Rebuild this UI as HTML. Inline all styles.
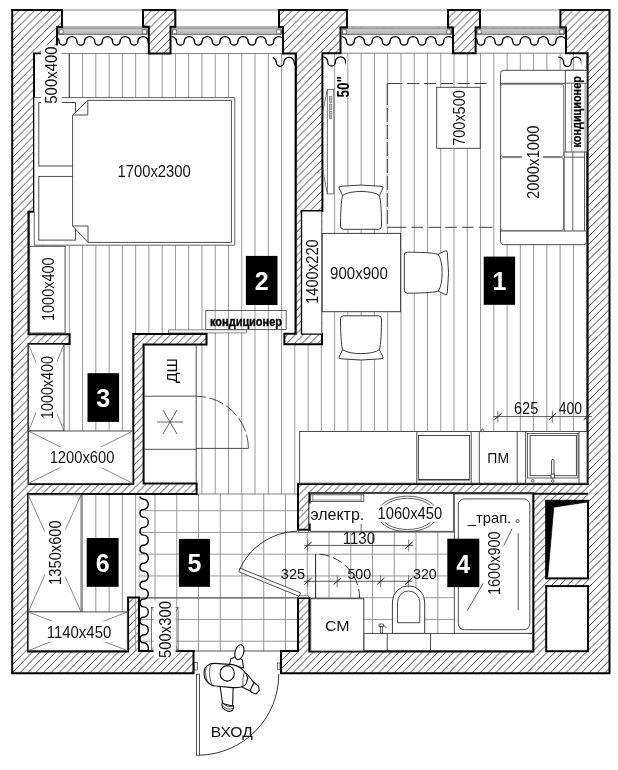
<!DOCTYPE html>
<html><head><meta charset="utf-8"><title>plan</title>
<style>html,body{margin:0;padding:0;background:#fff;overflow:hidden;}svg{display:block;}</style></head>
<body>
<svg width="618" height="770" viewBox="0 0 618 770">
<defs>
<pattern id="hatch" patternUnits="userSpaceOnUse" width="7.8" height="7.8" patternTransform="translate(6.1,0)"><path d="M-1,8.8 L8.8,-1 M-1,1 L1,-1 M6.8,8.8 L8.8,6.8" stroke="#3c3c3c" stroke-width="0.95" fill="none"/></pattern>
<filter id="gs" x="-5%" y="-5%" width="110%" height="110%" color-interpolation-filters="sRGB"><feOffset dx="0" dy="0"/></filter>
</defs>
<rect width="618" height="770" fill="#fff"/>
<rect x="12.20" y="10.00" width="597.30" height="663.20" fill="url(#hatch)" stroke="none" stroke-width="1" />
<rect x="62.00" y="8.00" width="81.00" height="19.00" fill="#fff" stroke="none" stroke-width="1" />
<rect x="57.00" y="27.00" width="91.80" height="26.50" fill="#fff" stroke="none" stroke-width="1" />
<rect x="175.30" y="8.00" width="103.70" height="19.00" fill="#fff" stroke="none" stroke-width="1" />
<rect x="170.50" y="27.00" width="112.50" height="26.50" fill="#fff" stroke="none" stroke-width="1" />
<rect x="347.00" y="8.00" width="101.00" height="19.50" fill="#fff" stroke="none" stroke-width="1" />
<rect x="340.50" y="27.50" width="112.50" height="25.70" fill="#fff" stroke="none" stroke-width="1" />
<rect x="480.00" y="8.00" width="80.40" height="19.50" fill="#fff" stroke="none" stroke-width="1" />
<rect x="475.60" y="27.50" width="90.40" height="25.70" fill="#fff" stroke="none" stroke-width="1" />
<rect x="34.00" y="53.50" width="261.90" height="280.70" fill="#fff" stroke="none" stroke-width="1" />
<rect x="28.50" y="211.70" width="5.50" height="122.40" fill="#fff" stroke="none" stroke-width="1" />
<rect x="206.50" y="334.00" width="77.70" height="11.00" fill="#fff" stroke="none" stroke-width="1" />
<rect x="28.50" y="344.00" width="104.80" height="140.00" fill="#fff" stroke="none" stroke-width="1" />
<rect x="69.60" y="334.00" width="63.70" height="10.20" fill="#fff" stroke="none" stroke-width="1" />
<rect x="143.60" y="344.40" width="52.90" height="139.10" fill="#fff" stroke="none" stroke-width="1" />
<rect x="196.50" y="344.60" width="391.10" height="139.10" fill="#fff" stroke="none" stroke-width="1" />
<rect x="196.50" y="482.00" width="101.30" height="12.00" fill="#fff" stroke="none" stroke-width="1" />
<rect x="322.40" y="53.20" width="265.20" height="291.80" fill="#fff" stroke="none" stroke-width="1" />
<rect x="301.60" y="211.00" width="20.80" height="123.20" fill="#fff" stroke="none" stroke-width="1" />
<rect x="28.10" y="494.00" width="269.90" height="157.30" fill="#fff" stroke="none" stroke-width="1" />
<rect x="193.50" y="650.00" width="87.50" height="24.00" fill="#fff" stroke="none" stroke-width="1" />
<rect x="309.40" y="492.40" width="224.00" height="159.10" fill="#fff" stroke="none" stroke-width="1" />
<rect x="297.50" y="529.70" width="12.10" height="68.30" fill="#fff" stroke="none" stroke-width="1" />
<rect x="128.10" y="597.50" width="10.90" height="54.00" fill="url(#hatch)" stroke="none" stroke-width="1" />
<clipPath id="woodclip">
<rect x="34" y="53.5" width="261.90" height="280.70"/>
<rect x="28.5" y="211.7" width="5.50" height="122.40"/>
<rect x="206.5" y="334" width="77.70" height="11.00"/>
<rect x="28.5" y="344" width="104.80" height="140.00"/>
<rect x="69.6" y="334" width="63.70" height="10.20"/>
<rect x="196.5" y="344.6" width="391.10" height="139.10"/>
<rect x="196.5" y="482" width="101.30" height="12.00"/>
<rect x="322.4" y="53.2" width="265.20" height="291.80"/>
<rect x="28.1" y="494" width="110.70" height="157.30"/>
</clipPath>
<g clip-path="url(#woodclip)">
<line x1="16.24" y1="40.00" x2="16.24" y2="660.00" stroke="#8c8c8c" stroke-width="0.9" />
<line x1="29.50" y1="40.00" x2="29.50" y2="660.00" stroke="#8c8c8c" stroke-width="0.9" />
<line x1="42.77" y1="40.00" x2="42.77" y2="660.00" stroke="#8c8c8c" stroke-width="0.9" />
<line x1="56.03" y1="40.00" x2="56.03" y2="660.00" stroke="#8c8c8c" stroke-width="0.9" />
<line x1="69.30" y1="40.00" x2="69.30" y2="660.00" stroke="#8c8c8c" stroke-width="0.9" />
<line x1="82.57" y1="40.00" x2="82.57" y2="660.00" stroke="#8c8c8c" stroke-width="0.9" />
<line x1="95.83" y1="40.00" x2="95.83" y2="660.00" stroke="#8c8c8c" stroke-width="0.9" />
<line x1="109.10" y1="40.00" x2="109.10" y2="660.00" stroke="#8c8c8c" stroke-width="0.9" />
<line x1="122.36" y1="40.00" x2="122.36" y2="660.00" stroke="#8c8c8c" stroke-width="0.9" />
<line x1="135.63" y1="40.00" x2="135.63" y2="660.00" stroke="#8c8c8c" stroke-width="0.9" />
<line x1="148.90" y1="40.00" x2="148.90" y2="660.00" stroke="#8c8c8c" stroke-width="0.9" />
<line x1="162.16" y1="40.00" x2="162.16" y2="660.00" stroke="#8c8c8c" stroke-width="0.9" />
<line x1="175.43" y1="40.00" x2="175.43" y2="660.00" stroke="#8c8c8c" stroke-width="0.9" />
<line x1="188.69" y1="40.00" x2="188.69" y2="660.00" stroke="#8c8c8c" stroke-width="0.9" />
<line x1="201.96" y1="40.00" x2="201.96" y2="660.00" stroke="#8c8c8c" stroke-width="0.9" />
<line x1="215.23" y1="40.00" x2="215.23" y2="660.00" stroke="#8c8c8c" stroke-width="0.9" />
<line x1="228.49" y1="40.00" x2="228.49" y2="660.00" stroke="#8c8c8c" stroke-width="0.9" />
<line x1="241.76" y1="40.00" x2="241.76" y2="660.00" stroke="#8c8c8c" stroke-width="0.9" />
<line x1="255.02" y1="40.00" x2="255.02" y2="660.00" stroke="#8c8c8c" stroke-width="0.9" />
<line x1="268.29" y1="40.00" x2="268.29" y2="660.00" stroke="#8c8c8c" stroke-width="0.9" />
<line x1="281.56" y1="40.00" x2="281.56" y2="660.00" stroke="#8c8c8c" stroke-width="0.9" />
<line x1="294.82" y1="40.00" x2="294.82" y2="660.00" stroke="#8c8c8c" stroke-width="0.9" />
<line x1="308.09" y1="40.00" x2="308.09" y2="660.00" stroke="#8c8c8c" stroke-width="0.9" />
<line x1="321.35" y1="40.00" x2="321.35" y2="660.00" stroke="#8c8c8c" stroke-width="0.9" />
<line x1="334.62" y1="40.00" x2="334.62" y2="660.00" stroke="#8c8c8c" stroke-width="0.9" />
<line x1="347.89" y1="40.00" x2="347.89" y2="660.00" stroke="#8c8c8c" stroke-width="0.9" />
<line x1="361.15" y1="40.00" x2="361.15" y2="660.00" stroke="#8c8c8c" stroke-width="0.9" />
<line x1="374.42" y1="40.00" x2="374.42" y2="660.00" stroke="#8c8c8c" stroke-width="0.9" />
<line x1="387.68" y1="40.00" x2="387.68" y2="660.00" stroke="#8c8c8c" stroke-width="0.9" />
<line x1="400.95" y1="40.00" x2="400.95" y2="660.00" stroke="#8c8c8c" stroke-width="0.9" />
<line x1="414.22" y1="40.00" x2="414.22" y2="660.00" stroke="#8c8c8c" stroke-width="0.9" />
<line x1="427.48" y1="40.00" x2="427.48" y2="660.00" stroke="#8c8c8c" stroke-width="0.9" />
<line x1="440.75" y1="40.00" x2="440.75" y2="660.00" stroke="#8c8c8c" stroke-width="0.9" />
<line x1="454.01" y1="40.00" x2="454.01" y2="660.00" stroke="#8c8c8c" stroke-width="0.9" />
<line x1="467.28" y1="40.00" x2="467.28" y2="660.00" stroke="#8c8c8c" stroke-width="0.9" />
<line x1="480.55" y1="40.00" x2="480.55" y2="660.00" stroke="#8c8c8c" stroke-width="0.9" />
<line x1="493.81" y1="40.00" x2="493.81" y2="660.00" stroke="#8c8c8c" stroke-width="0.9" />
<line x1="507.08" y1="40.00" x2="507.08" y2="660.00" stroke="#8c8c8c" stroke-width="0.9" />
<line x1="520.34" y1="40.00" x2="520.34" y2="660.00" stroke="#8c8c8c" stroke-width="0.9" />
<line x1="533.61" y1="40.00" x2="533.61" y2="660.00" stroke="#8c8c8c" stroke-width="0.9" />
<line x1="546.88" y1="40.00" x2="546.88" y2="660.00" stroke="#8c8c8c" stroke-width="0.9" />
<line x1="560.14" y1="40.00" x2="560.14" y2="660.00" stroke="#8c8c8c" stroke-width="0.9" />
<line x1="573.41" y1="40.00" x2="573.41" y2="660.00" stroke="#8c8c8c" stroke-width="0.9" />
<line x1="586.67" y1="40.00" x2="586.67" y2="660.00" stroke="#8c8c8c" stroke-width="0.9" />
<line x1="599.94" y1="40.00" x2="599.94" y2="660.00" stroke="#8c8c8c" stroke-width="0.9" />
</g>
<clipPath id="tileclip">
<rect x="138.8" y="494" width="164.20" height="157.30"/>
<rect x="193.5" y="650" width="87.50" height="1.50"/>
<rect x="309.4" y="492.4" width="224.00" height="159.10"/>
<rect x="303" y="529.7" width="6.60" height="68.30"/>
</clipPath>
<g clip-path="url(#tileclip)">
<line x1="133.25" y1="490.00" x2="133.25" y2="655.00" stroke="#8c8c8c" stroke-width="0.9" />
<line x1="155.00" y1="490.00" x2="155.00" y2="655.00" stroke="#8c8c8c" stroke-width="0.9" />
<line x1="176.75" y1="490.00" x2="176.75" y2="655.00" stroke="#8c8c8c" stroke-width="0.9" />
<line x1="198.50" y1="490.00" x2="198.50" y2="655.00" stroke="#8c8c8c" stroke-width="0.9" />
<line x1="220.25" y1="490.00" x2="220.25" y2="655.00" stroke="#8c8c8c" stroke-width="0.9" />
<line x1="242.00" y1="490.00" x2="242.00" y2="655.00" stroke="#8c8c8c" stroke-width="0.9" />
<line x1="263.75" y1="490.00" x2="263.75" y2="655.00" stroke="#8c8c8c" stroke-width="0.9" />
<line x1="285.50" y1="490.00" x2="285.50" y2="655.00" stroke="#8c8c8c" stroke-width="0.9" />
<line x1="307.25" y1="490.00" x2="307.25" y2="655.00" stroke="#8c8c8c" stroke-width="0.9" />
<line x1="329.00" y1="490.00" x2="329.00" y2="655.00" stroke="#8c8c8c" stroke-width="0.9" />
<line x1="350.75" y1="490.00" x2="350.75" y2="655.00" stroke="#8c8c8c" stroke-width="0.9" />
<line x1="372.50" y1="490.00" x2="372.50" y2="655.00" stroke="#8c8c8c" stroke-width="0.9" />
<line x1="394.25" y1="490.00" x2="394.25" y2="655.00" stroke="#8c8c8c" stroke-width="0.9" />
<line x1="416.00" y1="490.00" x2="416.00" y2="655.00" stroke="#8c8c8c" stroke-width="0.9" />
<line x1="437.75" y1="490.00" x2="437.75" y2="655.00" stroke="#8c8c8c" stroke-width="0.9" />
<line x1="459.50" y1="490.00" x2="459.50" y2="655.00" stroke="#8c8c8c" stroke-width="0.9" />
<line x1="481.25" y1="490.00" x2="481.25" y2="655.00" stroke="#8c8c8c" stroke-width="0.9" />
<line x1="503.00" y1="490.00" x2="503.00" y2="655.00" stroke="#8c8c8c" stroke-width="0.9" />
<line x1="524.75" y1="490.00" x2="524.75" y2="655.00" stroke="#8c8c8c" stroke-width="0.9" />
<line x1="130.00" y1="488.95" x2="540.00" y2="488.95" stroke="#8c8c8c" stroke-width="0.9" />
<line x1="130.00" y1="510.70" x2="540.00" y2="510.70" stroke="#8c8c8c" stroke-width="0.9" />
<line x1="130.00" y1="532.45" x2="540.00" y2="532.45" stroke="#8c8c8c" stroke-width="0.9" />
<line x1="130.00" y1="554.20" x2="540.00" y2="554.20" stroke="#8c8c8c" stroke-width="0.9" />
<line x1="130.00" y1="575.95" x2="540.00" y2="575.95" stroke="#8c8c8c" stroke-width="0.9" />
<line x1="130.00" y1="597.70" x2="540.00" y2="597.70" stroke="#8c8c8c" stroke-width="0.9" />
<line x1="130.00" y1="619.45" x2="540.00" y2="619.45" stroke="#8c8c8c" stroke-width="0.9" />
<line x1="130.00" y1="641.20" x2="540.00" y2="641.20" stroke="#8c8c8c" stroke-width="0.9" />
<line x1="138.80" y1="494.00" x2="138.80" y2="652.00" stroke="#8c8c8c" stroke-width="0.9" />
</g>
<line x1="57.00" y1="53.50" x2="148.80" y2="53.50" stroke="#777" stroke-width="0.9" />
<line x1="170.50" y1="53.50" x2="283.00" y2="53.50" stroke="#777" stroke-width="0.9" />
<line x1="340.50" y1="53.20" x2="453.00" y2="53.20" stroke="#777" stroke-width="0.9" />
<line x1="475.60" y1="53.20" x2="566.00" y2="53.20" stroke="#777" stroke-width="0.9" />
<line x1="196.50" y1="494.00" x2="297.80" y2="494.00" stroke="#777" stroke-width="0.9" />
<line x1="138.40" y1="598.00" x2="298.00" y2="598.00" stroke="#555" stroke-width="1" />
<line x1="193.50" y1="651.00" x2="281.00" y2="651.00" stroke="#555" stroke-width="1" />
<line x1="62.00" y1="10.00" x2="143.00" y2="10.00" stroke="#777" stroke-width="0.9" />
<line x1="57.00" y1="27.00" x2="148.80" y2="27.00" stroke="#555" stroke-width="0.9" />
<rect x="58.60" y="28.90" width="88.60" height="5.40" fill="#bdbdbd" stroke="#4a4a4a" stroke-width="0.8" />
<line x1="58.60" y1="29.90" x2="147.20" y2="29.90" stroke="#e2e2e2" stroke-width="0.9" />
<rect x="59.20" y="29.90" width="4.00" height="3.90" fill="#fff" stroke="#555" stroke-width="0.7" />
<rect x="142.60" y="29.90" width="4.00" height="3.90" fill="#fff" stroke="#555" stroke-width="0.7" />
<line x1="175.30" y1="10.00" x2="279.00" y2="10.00" stroke="#777" stroke-width="0.9" />
<line x1="170.50" y1="27.00" x2="283.00" y2="27.00" stroke="#555" stroke-width="0.9" />
<rect x="172.10" y="28.90" width="109.30" height="5.40" fill="#bdbdbd" stroke="#4a4a4a" stroke-width="0.8" />
<line x1="172.10" y1="29.90" x2="281.40" y2="29.90" stroke="#e2e2e2" stroke-width="0.9" />
<rect x="172.70" y="29.90" width="4.00" height="3.90" fill="#fff" stroke="#555" stroke-width="0.7" />
<rect x="276.80" y="29.90" width="4.00" height="3.90" fill="#fff" stroke="#555" stroke-width="0.7" />
<line x1="347.00" y1="10.00" x2="448.00" y2="10.00" stroke="#777" stroke-width="0.9" />
<line x1="340.50" y1="27.00" x2="453.00" y2="27.00" stroke="#555" stroke-width="0.9" />
<rect x="342.10" y="28.90" width="109.30" height="5.40" fill="#bdbdbd" stroke="#4a4a4a" stroke-width="0.8" />
<line x1="342.10" y1="29.90" x2="451.40" y2="29.90" stroke="#e2e2e2" stroke-width="0.9" />
<rect x="342.70" y="29.90" width="4.00" height="3.90" fill="#fff" stroke="#555" stroke-width="0.7" />
<rect x="446.80" y="29.90" width="4.00" height="3.90" fill="#fff" stroke="#555" stroke-width="0.7" />
<line x1="480.00" y1="10.00" x2="560.40" y2="10.00" stroke="#777" stroke-width="0.9" />
<line x1="475.00" y1="27.00" x2="566.00" y2="27.00" stroke="#555" stroke-width="0.9" />
<rect x="476.60" y="28.90" width="87.80" height="5.40" fill="#bdbdbd" stroke="#4a4a4a" stroke-width="0.8" />
<line x1="476.60" y1="29.90" x2="564.40" y2="29.90" stroke="#e2e2e2" stroke-width="0.9" />
<rect x="477.20" y="29.90" width="4.00" height="3.90" fill="#fff" stroke="#555" stroke-width="0.7" />
<rect x="559.80" y="29.90" width="4.00" height="3.90" fill="#fff" stroke="#555" stroke-width="0.7" />
<clipPath id="wc1"><rect x="57.20" y="33.60" width="90.80" height="14.50"/></clipPath>
<path d="M31.10,41.20 A5.10,4.60 0 0 1 41.30,41.20 A3.80,3.90 0 0 0 48.90,41.20 A5.10,4.60 0 0 1 59.10,41.20 A3.80,3.90 0 0 0 66.70,41.20 A5.10,4.60 0 0 1 76.90,41.20 A3.80,3.90 0 0 0 84.50,41.20 A5.10,4.60 0 0 1 94.70,41.20 A3.80,3.90 0 0 0 102.30,41.20 A5.10,4.60 0 0 1 112.50,41.20 A3.80,3.90 0 0 0 120.10,41.20 A5.10,4.60 0 0 1 130.30,41.20 A3.80,3.90 0 0 0 137.90,41.20 A5.10,4.60 0 0 1 148.10,41.20 A3.80,3.90 0 0 0 155.70,41.20 A5.10,4.60 0 0 1 165.90,41.20 A3.80,3.90 0 0 0 173.50,41.20 " fill="none" stroke="#000" stroke-width="1.4" clip-path="url(#wc1)"/>
<clipPath id="wc2"><rect x="171.60" y="33.60" width="110.60" height="14.50"/></clipPath>
<path d="M148.40,41.20 A5.10,4.60 0 0 1 158.60,41.20 A3.85,3.90 0 0 0 166.30,41.20 A5.10,4.60 0 0 1 176.50,41.20 A3.85,3.90 0 0 0 184.20,41.20 A5.10,4.60 0 0 1 194.40,41.20 A3.85,3.90 0 0 0 202.10,41.20 A5.10,4.60 0 0 1 212.30,41.20 A3.85,3.90 0 0 0 220.00,41.20 A5.10,4.60 0 0 1 230.20,41.20 A3.85,3.90 0 0 0 237.90,41.20 A5.10,4.60 0 0 1 248.10,41.20 A3.85,3.90 0 0 0 255.80,41.20 A5.10,4.60 0 0 1 266.00,41.20 A3.85,3.90 0 0 0 273.70,41.20 A5.10,4.60 0 0 1 283.90,41.20 A3.85,3.90 0 0 0 291.60,41.20 A5.10,4.60 0 0 1 301.80,41.20 A3.85,3.90 0 0 0 309.50,41.20 " fill="none" stroke="#000" stroke-width="1.4" clip-path="url(#wc2)"/>
<clipPath id="wc3"><rect x="341.60" y="33.60" width="110.60" height="14.50"/></clipPath>
<path d="M318.40,41.20 A5.10,4.60 0 0 1 328.60,41.20 A3.85,3.90 0 0 0 336.30,41.20 A5.10,4.60 0 0 1 346.50,41.20 A3.85,3.90 0 0 0 354.20,41.20 A5.10,4.60 0 0 1 364.40,41.20 A3.85,3.90 0 0 0 372.10,41.20 A5.10,4.60 0 0 1 382.30,41.20 A3.85,3.90 0 0 0 390.00,41.20 A5.10,4.60 0 0 1 400.20,41.20 A3.85,3.90 0 0 0 407.90,41.20 A5.10,4.60 0 0 1 418.10,41.20 A3.85,3.90 0 0 0 425.80,41.20 A5.10,4.60 0 0 1 436.00,41.20 A3.85,3.90 0 0 0 443.70,41.20 A5.10,4.60 0 0 1 453.90,41.20 A3.85,3.90 0 0 0 461.60,41.20 A5.10,4.60 0 0 1 471.80,41.20 A3.85,3.90 0 0 0 479.50,41.20 " fill="none" stroke="#000" stroke-width="1.4" clip-path="url(#wc3)"/>
<clipPath id="wc4"><rect x="475.20" y="33.60" width="90.80" height="14.50"/></clipPath>
<path d="M449.10,41.20 A5.10,4.60 0 0 1 459.30,41.20 A3.80,3.90 0 0 0 466.90,41.20 A5.10,4.60 0 0 1 477.10,41.20 A3.80,3.90 0 0 0 484.70,41.20 A5.10,4.60 0 0 1 494.90,41.20 A3.80,3.90 0 0 0 502.50,41.20 A5.10,4.60 0 0 1 512.70,41.20 A3.80,3.90 0 0 0 520.30,41.20 A5.10,4.60 0 0 1 530.50,41.20 A3.80,3.90 0 0 0 538.10,41.20 A5.10,4.60 0 0 1 548.30,41.20 A3.80,3.90 0 0 0 555.90,41.20 A5.10,4.60 0 0 1 566.10,41.20 A3.80,3.90 0 0 0 573.70,41.20 A5.10,4.60 0 0 1 583.90,41.20 A3.80,3.90 0 0 0 591.50,41.20 " fill="none" stroke="#000" stroke-width="1.4" clip-path="url(#wc4)"/>
<path d="M62.00,27.00 L62.00,10.00 L12.20,10.00 L12.20,673.20 L193.50,673.20 L193.50,651.00" fill="none" stroke="#000" stroke-width="2" stroke-linejoin="miter" stroke-linecap="square" />
<path d="M281.00,651.00 L281.00,673.20 L609.50,673.20 L609.50,10.00 L560.40,10.00 L560.40,27.50 L566.00,27.50 L566.00,53.20 L587.60,53.20 L587.60,483.70" fill="none" stroke="#000" stroke-width="2" stroke-linejoin="miter" stroke-linecap="square" />
<path d="M143.00,10.00 L175.30,10.00 L175.30,26.70 L170.50,26.70 L170.50,53.50 L148.80,53.50 L148.80,26.70 L143.00,26.70 Z" fill="none" stroke="#000" stroke-width="2" stroke-linejoin="miter" stroke-linecap="square" />
<path d="M279.00,27.00 L279.00,10.00 L347.00,10.00 L347.00,27.50 L340.50,27.50 L340.50,53.20 L322.40,53.20 L322.40,211.00 L301.60,211.00" fill="none" stroke="#000" stroke-width="2" stroke-linejoin="miter" stroke-linecap="square" />
<path d="M279.00,27.00 L283.00,27.00 L283.00,53.50 L295.90,53.50 L295.70,333.70 L284.40,333.70 L284.40,344.30 L322.00,344.30 L322.00,333.70 L302.00,333.70" fill="none" stroke="#000" stroke-width="2" stroke-linejoin="miter" stroke-linecap="square" />
<line x1="301.60" y1="211.00" x2="301.60" y2="334.00" stroke="#000" stroke-width="1.6" />
<path d="M448.00,10.00 L480.00,10.00 L480.00,27.50 L475.60,27.50 L475.60,53.20 L453.00,53.20 L453.00,27.50 L448.00,27.50 Z" fill="none" stroke="#000" stroke-width="2" stroke-linejoin="miter" stroke-linecap="square" />
<path d="M62.00,27.00 L57.00,27.00 L57.00,53.50 L34.00,53.50 L34.00,211.70 L28.50,211.70 L28.50,334.20 L69.60,334.20 L69.60,344.00 L28.50,344.00 L28.50,484.00 L133.30,484.00 L133.30,334.10 L206.50,334.10 L206.50,344.50 L143.60,344.50 L143.60,483.60 L196.60,483.60 L196.60,494.00 L28.10,494.00 L28.10,651.50 L128.10,651.50 L128.10,597.50 L139.00,597.50 L139.00,651.00 L193.50,651.00" fill="none" stroke="#000" stroke-width="2" stroke-linejoin="miter" stroke-linecap="square" />
<path d="M281.00,651.00 L298.00,651.00 L298.00,598.00 L309.40,598.00 L309.40,651.50 L533.40,651.50 L533.40,493.20 L309.40,493.20 L309.40,529.70 L298.00,529.70 L298.00,484.00 L587.60,484.00" fill="none" stroke="#000" stroke-width="2" stroke-linejoin="miter" stroke-linecap="square" />
<line x1="533.40" y1="493.70" x2="588.00" y2="493.70" stroke="#000" stroke-width="2" />
<rect x="546.20" y="500.80" width="41.80" height="77.60" fill="#fff" stroke="#000" stroke-width="2" />
<rect x="546.20" y="586.10" width="41.80" height="65.10" fill="#fff" stroke="#000" stroke-width="2" />
<path d="M546.2,500.8 L588,500.8 L586.5,502.2 L553.8,507.2 L547.8,577 L546.2,578.4 Z" fill="#000" stroke="#000" stroke-width="0.6" />
<rect x="35.10" y="54.60" width="34.20" height="43.00" fill="#fff" stroke="none" stroke-width="1" />
<line x1="69.30" y1="53.50" x2="69.30" y2="97.60" stroke="#444" stroke-width="1.2" />
<rect x="34.30" y="97.60" width="200.50" height="147.60" fill="#fff" stroke="none" stroke-width="1" />
<path d="M34.3,97.6 L234.8,97.6 L234.8,245.2 L34.3,245.2 L34.3,212.5" fill="none" stroke="#555" stroke-width="0.9" />
<rect x="38.80" y="102.50" width="36.70" height="63.50" fill="#fff" stroke="#3a3a3a" stroke-width="0.9" />
<rect x="38.80" y="176.40" width="36.70" height="63.70" fill="#fff" stroke="#3a3a3a" stroke-width="0.9" />
<path d="M87.8,100.4 L231.4,100.4 L231.4,242.4 L88,242.4 L72.6,226 L72.6,115 Z" fill="#fff" stroke="#3a3a3a" stroke-width="0.9" />
<path d="M87.8,100.4 L87.8,115 L72.6,115" fill="none" stroke="#3a3a3a" stroke-width="0.9" />
<path d="M72.6,226 L88,226 L88,242.4" fill="none" stroke="#3a3a3a" stroke-width="0.9" />
<rect x="29.70" y="246.30" width="35.40" height="86.70" fill="#fff" stroke="#3a3a3a" stroke-width="0.9" />
<rect x="28.50" y="344.30" width="35.50" height="86.70" fill="#fff" stroke="#3a3a3a" stroke-width="0.9" />
<line x1="28.50" y1="344.30" x2="64.00" y2="431.00" stroke="#555" stroke-width="0.7" />
<line x1="28.50" y1="431.00" x2="64.00" y2="344.30" stroke="#555" stroke-width="0.7" />
<rect x="28.50" y="431.00" width="104.30" height="52.40" fill="#fff" stroke="#3a3a3a" stroke-width="0.9" />
<line x1="28.50" y1="431.00" x2="132.80" y2="483.40" stroke="#555" stroke-width="0.7" />
<line x1="28.50" y1="483.40" x2="132.80" y2="431.00" stroke="#555" stroke-width="0.7" />
<rect x="28.20" y="494.80" width="52.90" height="117.10" fill="#fff" stroke="#3a3a3a" stroke-width="0.9" />
<line x1="28.20" y1="494.80" x2="81.10" y2="611.90" stroke="#555" stroke-width="0.7" />
<line x1="28.20" y1="611.90" x2="81.10" y2="494.80" stroke="#555" stroke-width="0.7" />
<rect x="28.20" y="611.90" width="99.10" height="38.70" fill="#fff" stroke="#3a3a3a" stroke-width="0.9" />
<line x1="28.20" y1="611.90" x2="127.30" y2="650.60" stroke="#555" stroke-width="0.7" />
<line x1="28.20" y1="650.60" x2="127.30" y2="611.90" stroke="#555" stroke-width="0.7" />
<line x1="196.20" y1="344.50" x2="196.20" y2="483.50" stroke="#3a3a3a" stroke-width="0.9" />
<line x1="143.60" y1="396.20" x2="196.20" y2="396.20" stroke="#3a3a3a" stroke-width="0.9" />
<line x1="143.60" y1="449.30" x2="196.20" y2="449.30" stroke="#3a3a3a" stroke-width="0.9" />
<line x1="157.00" y1="422.00" x2="183.00" y2="422.00" stroke="#3a3a3a" stroke-width="0.8" />
<line x1="163.00" y1="410.00" x2="177.00" y2="434.00" stroke="#3a3a3a" stroke-width="0.8" />
<line x1="163.00" y1="434.00" x2="177.00" y2="410.00" stroke="#3a3a3a" stroke-width="0.8" />
<line x1="196.20" y1="448.40" x2="248.40" y2="448.40" stroke="#3a3a3a" stroke-width="0.9" />
<path d="M196.2,396.3 A52.2,52.2 0 0 1 248.4,448.4" fill="none" stroke="#3a3a3a" stroke-width="0.9" stroke-dasharray="15,3.2" stroke-dashoffset="5"/>
<rect x="205.80" y="310.40" width="80.40" height="19.00" fill="none" stroke="#3a3a3a" stroke-width="0.8" />
<rect x="168.50" y="329.90" width="78.00" height="3.00" fill="#fff" stroke="#555" stroke-width="0.7" />
<rect x="302.40" y="211.50" width="19.40" height="122.00" fill="#fff" stroke="none" stroke-width="1" />
<line x1="321.80" y1="211.00" x2="321.80" y2="334.00" stroke="#3a3a3a" stroke-width="0.9" />
<rect x="322.20" y="233.40" width="78.40" height="78.30" fill="#fff" stroke="#3a3a3a" stroke-width="1" />
<path d="M394,83.5 L488,83.5" fill="none" stroke="#2a2a2a" stroke-width="0.9" stroke-dasharray="12,4.8" stroke-dashoffset="3.5"/>
<path d="M387.2,227.3 L387.2,83.5 L394.5,83.5" fill="none" stroke="#2a2a2a" stroke-width="0.9" />
<path d="M387.2,101 L387.2,227.3" fill="none" stroke="#fff" stroke-width="1.2" stroke-dasharray="3,14" stroke-dashoffset="-4"/>
<path d="M387.2,227.3 L406.3,227.3 M411.6,227.3 L423.1,227.3 M428.4,227.3 L441,227.3 M445.2,227.3 L456.8,227.3 M462,227.3 L473.6,227.3 M478.9,227.3 L492.5,227.3" fill="none" stroke="#2a2a2a" stroke-width="0.9" />
<rect x="436.70" y="87.30" width="43.50" height="61.00" fill="#fff" stroke="#3a3a3a" stroke-width="0.9" />
<path d="M-22,-19.3 Q-22.5,-21 -20,-21 Q0,-23.5 20,-21 Q22.5,-21 22,-19.3 L18.4,-11.8 C20,-7 20.5,8 20.5,19 Q20.5,22 17.5,22 L-17.5,22 Q-20.5,22 -20.5,19 C-20.5,8 -20,-7 -18.4,-11.8 Z M-18.4,-11.8 C-12,-17.2 12,-17.2 18.4,-11.8" transform="translate(361,207.3) rotate(0)" fill="#fff" stroke="#3a3a3a" stroke-width="1"/>
<path d="M-22,-19.3 Q-22.5,-21 -20,-21 Q0,-23.5 20,-21 Q22.5,-21 22,-19.3 L18.4,-11.8 C20,-7 20.5,8 20.5,19 Q20.5,22 17.5,22 L-17.5,22 Q-20.5,22 -20.5,19 C-20.5,8 -20,-7 -18.4,-11.8 Z M-18.4,-11.8 C-12,-17.2 12,-17.2 18.4,-11.8" transform="translate(426.3,272.7) rotate(90)" fill="#fff" stroke="#3a3a3a" stroke-width="1"/>
<path d="M-22,-19.3 Q-22.5,-21 -20,-21 Q0,-23.5 20,-21 Q22.5,-21 22,-19.3 L18.4,-11.8 C20,-7 20.5,8 20.5,19 Q20.5,22 17.5,22 L-17.5,22 Q-20.5,22 -20.5,19 C-20.5,8 -20,-7 -18.4,-11.8 Z M-18.4,-11.8 C-12,-17.2 12,-17.2 18.4,-11.8" transform="translate(361,337.8) rotate(180)" fill="#fff" stroke="#3a3a3a" stroke-width="1"/>
<rect x="327.30" y="89.60" width="6.50" height="104.30" fill="#fff" stroke="#555" stroke-width="0.8" />
<line x1="327.30" y1="89.60" x2="322.60" y2="112.30" stroke="#555" stroke-width="0.8" />
<line x1="327.30" y1="193.90" x2="322.60" y2="168.50" stroke="#555" stroke-width="0.8" />
<rect x="329.30" y="96.50" width="2.60" height="6.00" fill="#bbb" stroke="#666" stroke-width="0.5" />
<rect x="329.30" y="104.00" width="2.60" height="6.00" fill="#bbb" stroke="#666" stroke-width="0.5" />
<rect x="329.30" y="111.50" width="2.60" height="4.00" fill="#bbb" stroke="#666" stroke-width="0.5" />
<rect x="329.30" y="116.50" width="2.60" height="2.20" fill="#bbb" stroke="#666" stroke-width="0.5" />
<rect x="500.50" y="70.30" width="86.00" height="174.40" fill="#fff" stroke="#3a3a3a" stroke-width="0.9" rx="3"/>
<line x1="500.50" y1="83.30" x2="565.00" y2="83.30" stroke="#3a3a3a" stroke-width="0.9" />
<line x1="500.50" y1="231.00" x2="586.50" y2="231.00" stroke="#3a3a3a" stroke-width="0.9" />
<rect x="500.60" y="84.30" width="63.10" height="72.30" fill="#fff" stroke="#555" stroke-width="0.8" rx="2.5"/>
<rect x="500.60" y="157.60" width="63.10" height="72.80" fill="#fff" stroke="#555" stroke-width="0.8" rx="2.5"/>
<line x1="572.80" y1="151.50" x2="572.80" y2="231.00" stroke="#3a3a3a" stroke-width="0.8" />
<line x1="564.20" y1="151.50" x2="564.20" y2="231.00" stroke="#3a3a3a" stroke-width="0.8" />
<line x1="584.50" y1="151.50" x2="584.50" y2="231.00" stroke="#3a3a3a" stroke-width="0.8" />
<line x1="564.20" y1="157.20" x2="584.50" y2="157.20" stroke="#3a3a3a" stroke-width="0.8" />
<rect x="565.30" y="70.30" width="21.70" height="81.70" fill="#fff" stroke="#3a3a3a" stroke-width="0.9" />
<line x1="565.30" y1="83.20" x2="587.00" y2="83.20" stroke="#3a3a3a" stroke-width="0.8" />
<line x1="571.70" y1="83.20" x2="571.70" y2="152.00" stroke="#666" stroke-width="0.8" />
<line x1="585.10" y1="83.20" x2="585.10" y2="152.00" stroke="#666" stroke-width="0.8" />
<clipPath id="wc5"><rect x="272.80" y="54.30" width="22.40" height="15.00"/></clipPath>
<path d="M248.10,62.10 A5.10,4.80 0 0 1 258.30,62.10 A3.85,4.20 0 0 0 266.00,62.10 A5.10,4.80 0 0 1 276.20,62.10 A3.85,4.20 0 0 0 283.90,62.10 A5.10,4.80 0 0 1 294.10,62.10 A3.85,4.20 0 0 0 301.80,62.10 A5.10,4.80 0 0 1 312.00,62.10 A3.85,4.20 0 0 0 319.70,62.10 " fill="none" stroke="#000" stroke-width="1.3" clip-path="url(#wc5)"/>
<clipPath id="wc6"><rect x="323.20" y="53.90" width="22.80" height="15.10"/></clipPath>
<path d="M299.60,61.70 A5.10,4.80 0 0 1 309.80,61.70 A3.85,4.30 0 0 0 317.50,61.70 A5.10,4.80 0 0 1 327.70,61.70 A3.85,4.30 0 0 0 335.40,61.70 A5.10,4.80 0 0 1 345.60,61.70 A3.85,4.30 0 0 0 353.30,61.70 A5.10,4.80 0 0 1 363.50,61.70 A3.85,4.30 0 0 0 371.20,61.70 " fill="none" stroke="#000" stroke-width="1.3" clip-path="url(#wc6)"/>
<clipPath id="wc7"><rect x="558.30" y="54.10" width="23.00" height="15.20"/></clipPath>
<path d="M535.40,61.90 A5.10,4.80 0 0 1 545.60,61.90 A3.85,4.40 0 0 0 553.30,61.90 A5.10,4.80 0 0 1 563.50,61.90 A3.85,4.40 0 0 0 571.20,61.90 A5.10,4.80 0 0 1 581.40,61.90 A3.85,4.40 0 0 0 589.10,61.90 A5.10,4.80 0 0 1 599.30,61.90 A3.85,4.40 0 0 0 607.00,61.90 " fill="none" stroke="#000" stroke-width="1.3" clip-path="url(#wc7)"/>
<rect x="299.60" y="431.50" width="287.40" height="51.70" fill="#fff" stroke="#3a3a3a" stroke-width="0.9" />
<line x1="416.80" y1="431.50" x2="416.80" y2="483.20" stroke="#3a3a3a" stroke-width="0.9" />
<rect x="418.40" y="435.50" width="51.20" height="44.40" fill="#fff" stroke="#3a3a3a" stroke-width="0.9" />
<line x1="418.40" y1="479.60" x2="469.60" y2="479.60" stroke="#3a3a3a" stroke-width="1.4" />
<line x1="471.20" y1="431.50" x2="471.20" y2="483.20" stroke="#3a3a3a" stroke-width="0.9" />
<line x1="479.30" y1="431.50" x2="479.30" y2="483.20" stroke="#3a3a3a" stroke-width="0.9" />
<line x1="517.20" y1="431.50" x2="517.20" y2="483.20" stroke="#3a3a3a" stroke-width="0.9" />
<line x1="525.60" y1="431.50" x2="525.60" y2="483.20" stroke="#3a3a3a" stroke-width="0.9" />
<line x1="579.00" y1="431.50" x2="579.00" y2="483.20" stroke="#3a3a3a" stroke-width="0.9" />
<rect x="527.50" y="433.50" width="50.50" height="44.50" fill="#fff" stroke="#3a3a3a" stroke-width="0.8" />
<rect x="530.10" y="435.50" width="46.30" height="40.20" fill="#fff" stroke="#3a3a3a" stroke-width="0.9" />
<rect x="551.60" y="459.50" width="2.40" height="17.50" fill="#fff" stroke="#222" stroke-width="0.8" rx="1"/>
<path d="M551,474 h3.6 v4 h-3.6 z" fill="#fff" stroke="#222" stroke-width="0.8" />
<circle cx="552.8" cy="481" r="1.3" fill="#fff" stroke="#222" stroke-width="0.7"/>
<circle cx="532.7" cy="480.8" r="1.3" fill="#fff" stroke="#222" stroke-width="0.7"/>
<circle cx="482.5" cy="430.4" r="1.3" fill="#fff" stroke="#222" stroke-width="0.7"/>
<line x1="493.20" y1="416.60" x2="592.00" y2="416.60" stroke="#333" stroke-width="0.8" />
<line x1="497.90" y1="410.60" x2="497.90" y2="422.60" stroke="#555" stroke-width="0.8" />
<line x1="494.40" y1="419.80" x2="501.70" y2="413.20" stroke="#111" stroke-width="1" />
<line x1="552.40" y1="410.60" x2="552.40" y2="422.60" stroke="#555" stroke-width="0.8" />
<line x1="548.90" y1="419.80" x2="556.20" y2="413.20" stroke="#111" stroke-width="1" />
<line x1="587.20" y1="410.60" x2="587.20" y2="422.60" stroke="#555" stroke-width="0.8" />
<line x1="583.70" y1="419.80" x2="591.00" y2="413.20" stroke="#111" stroke-width="1" />
<rect x="310.40" y="493.50" width="143.30" height="37.80" fill="#fff" stroke="#3a3a3a" stroke-width="0.9" />
<rect x="310.40" y="494.80" width="53.40" height="6.80" fill="#fff" stroke="#3a3a3a" stroke-width="0.8" />
<line x1="312.80" y1="494.80" x2="312.80" y2="501.60" stroke="#3a3a3a" stroke-width="0.6" />
<line x1="361.20" y1="494.80" x2="361.20" y2="501.60" stroke="#3a3a3a" stroke-width="0.6" />
<line x1="312.80" y1="500.00" x2="361.20" y2="500.00" stroke="#777" stroke-width="0.8" />
<line x1="361.20" y1="524.00" x2="361.20" y2="531.30" stroke="#3a3a3a" stroke-width="0.8" />
<ellipse cx="407.6" cy="513.9" rx="30" ry="17.8" fill="none" stroke="#3a3a3a" stroke-width="0.8"/>
<ellipse cx="407.6" cy="513.9" rx="27.3" ry="15.6" fill="none" stroke="#3a3a3a" stroke-width="0.8"/>
<rect x="454.30" y="493.90" width="78.10" height="139.50" fill="#fff" stroke="#3a3a3a" stroke-width="0.9" />
<rect x="458.30" y="498.90" width="71.50" height="130.80" fill="#fff" stroke="#3a3a3a" stroke-width="0.9" rx="6"/>
<line x1="512.10" y1="528.70" x2="503.90" y2="545.40" stroke="#3a3a3a" stroke-width="0.8" />
<line x1="483.20" y1="583.40" x2="467.10" y2="610.80" stroke="#3a3a3a" stroke-width="0.8" />
<line x1="518.20" y1="533.20" x2="518.20" y2="610.20" stroke="#3a3a3a" stroke-width="0.8" />
<circle cx="517.6" cy="521" r="1.6" fill="#fff" stroke="#222" stroke-width="0.7"/>
<rect x="363.80" y="633.40" width="168.60" height="17.20" fill="#fff" stroke="#3a3a3a" stroke-width="0.9" />
<line x1="387.20" y1="633.60" x2="387.20" y2="651.00" stroke="#3a3a3a" stroke-width="0.9" />
<line x1="430.50" y1="633.60" x2="430.50" y2="651.00" stroke="#3a3a3a" stroke-width="0.9" />
<rect x="310.70" y="598.70" width="53.10" height="52.30" fill="#fff" stroke="#3a3a3a" stroke-width="1" />
<path d="M392.4,633.4 L392.4,602 A16.15,16.2 0 0 1 424.7,602 L424.7,633.4 Z" fill="#fff" stroke="#3a3a3a" stroke-width="1" />
<path d="M397.5,622.7 L397.5,602.5 A11.15,11.5 0 0 1 419.8,602.5 L419.8,622.7 Z" fill="#fff" stroke="#3a3a3a" stroke-width="0.9" />
<path d="M379,624 h4.5 v2.5 h-4.5 z M380.5,626.5 v6.5 h2 v-6.5 M383.5,625 l3,3" fill="#fff" stroke="#222" stroke-width="0.7" />
<line x1="304.20" y1="545.40" x2="413.50" y2="545.40" stroke="#333" stroke-width="0.8" />
<line x1="307.80" y1="539.40" x2="307.80" y2="551.40" stroke="#555" stroke-width="0.8" />
<line x1="304.30" y1="548.60" x2="311.60" y2="542.00" stroke="#111" stroke-width="1" />
<line x1="408.70" y1="539.40" x2="408.70" y2="551.40" stroke="#555" stroke-width="0.8" />
<line x1="405.20" y1="548.60" x2="412.50" y2="542.00" stroke="#111" stroke-width="1" />
<line x1="303.80" y1="581.30" x2="412.50" y2="581.30" stroke="#333" stroke-width="0.8" />
<line x1="307.80" y1="575.30" x2="307.80" y2="587.30" stroke="#555" stroke-width="0.8" />
<line x1="304.30" y1="584.50" x2="311.60" y2="577.90" stroke="#111" stroke-width="1" />
<line x1="337.20" y1="575.30" x2="337.20" y2="587.30" stroke="#555" stroke-width="0.8" />
<line x1="333.70" y1="584.50" x2="341.00" y2="577.90" stroke="#111" stroke-width="1" />
<line x1="380.60" y1="575.30" x2="380.60" y2="587.30" stroke="#555" stroke-width="0.8" />
<line x1="377.10" y1="584.50" x2="384.40" y2="577.90" stroke="#111" stroke-width="1" />
<line x1="408.60" y1="575.30" x2="408.60" y2="587.30" stroke="#555" stroke-width="0.8" />
<line x1="405.10" y1="584.50" x2="412.40" y2="577.90" stroke="#111" stroke-width="1" />
<rect x="298.60" y="530.60" width="9.80" height="1.60" fill="#fff" stroke="#333" stroke-width="0.6" />
<rect x="298.40" y="595.80" width="10.20" height="1.80" fill="#fff" stroke="#333" stroke-width="0.6" />
<line x1="315.60" y1="554.00" x2="315.60" y2="598.00" stroke="#222" stroke-width="1" />
<path d="M315.6,554 A44,44 0 0 1 359.6,598" fill="none" stroke="#222" stroke-width="0.9" stroke-dasharray="10,4" stroke-dashoffset="-4"/>
<path d="M240.2,568.3 L300.6,592.9 L299.2,596.3 L238.8,571.8 Z" fill="#fff" stroke="#222" stroke-width="0.8" />
<path d="M239.3,570 A65.2,65.2 0 0 1 297,531.2" fill="none" stroke="#222" stroke-width="0.9" />
<clipPath id="wc8"><rect y="496.40" x="136.80" height="154.60" width="14.50"/></clipPath>
<path d="M143.70,463.30 A4.60,5.10 0 0 1 143.70,473.50 A3.90,3.88 0 0 0 143.70,481.25 A4.60,5.10 0 0 1 143.70,491.45 A3.90,3.88 0 0 0 143.70,499.20 A4.60,5.10 0 0 1 143.70,509.40 A3.90,3.88 0 0 0 143.70,517.15 A4.60,5.10 0 0 1 143.70,527.35 A3.90,3.88 0 0 0 143.70,535.10 A4.60,5.10 0 0 1 143.70,545.30 A3.90,3.88 0 0 0 143.70,553.05 A4.60,5.10 0 0 1 143.70,563.25 A3.90,3.88 0 0 0 143.70,571.00 A4.60,5.10 0 0 1 143.70,581.20 A3.90,3.88 0 0 0 143.70,588.95 A4.60,5.10 0 0 1 143.70,599.15 A3.90,3.88 0 0 0 143.70,606.90 A4.60,5.10 0 0 1 143.70,617.10 A3.90,3.88 0 0 0 143.70,624.85 A4.60,5.10 0 0 1 143.70,635.05 A3.90,3.88 0 0 0 143.70,642.80 A4.60,5.10 0 0 1 143.70,653.00 A3.90,3.88 0 0 0 143.70,660.75 A4.60,5.10 0 0 1 143.70,670.95 A3.90,3.88 0 0 0 143.70,678.70 " fill="none" stroke="#000" stroke-width="1.4" clip-path="url(#wc8)"/>
<rect x="151.50" y="607.50" width="26.60" height="42.80" fill="none" stroke="#555" stroke-width="0.8" />
<line x1="151.50" y1="607.50" x2="178.10" y2="650.30" stroke="#555" stroke-width="0.7" />
<line x1="151.50" y1="650.30" x2="178.10" y2="607.50" stroke="#555" stroke-width="0.7" />
<rect x="194.60" y="662.40" width="2.70" height="7.60" fill="#fff" stroke="#333" stroke-width="0.7" />
<rect x="277.30" y="663.00" width="2.70" height="6.60" fill="#fff" stroke="#333" stroke-width="0.7" />
<rect x="196.40" y="674.20" width="3.00" height="81.00" fill="#fff" stroke="#222" stroke-width="0.8" />
<path d="M199.4,755.2 A81,81 0 0 0 278.8,674" fill="none" stroke="#222" stroke-width="0.9" />
<g fill="#fff" stroke="#111" stroke-width="1.1" stroke-linejoin="round">
<path d="M219.8,684.5 L222.6,703.5 L232.6,706 L233.2,686 Z"/>
<path d="M222.3,702.5 C220.5,706.5 223.5,710 228,711.3 C232,712 234.2,709.5 233.6,705.5 C230,707 225.5,706 222.3,702.5 Z"/>
<path d="M222.8,705.5 C225,709 230,710 233.2,708" fill="none" stroke-width="0.7"/>
<path d="M229.6,664.5 L230.8,658.8 L236.2,656.6 L242.3,659.8 L243.6,668 Z"/>
<ellipse cx="239.4" cy="652.2" rx="4.3" ry="7.6" transform="rotate(16 239.4 652.2)"/>
<path d="M239.5,670 L247.5,674.5 L254.5,683.5 L251,691.5 L243,687.5 L237,684 Z"/>
<path d="M254,682.5 L258.6,686.2 L259.3,690.5 L256,694 L251.2,692.3 L250.6,689.5 Z"/>
<path d="M204,672.5 C204,666.5 209,663.2 215,663.4 L233,664.6 C240,666 246,671.5 247.8,678 L246,684 C243,687.8 236,688 230,687.4 L215,686 C208.5,685 204,680 204,672.5 Z"/>
<path d="M210.8,664.4 C208.8,670 209.3,678 211.8,684.6" fill="none" stroke-width="0.7"/>
<path d="M206.2,667 C205,672 205.6,678 207.8,682" fill="none" stroke-width="0.7"/>
<path d="M244.5,671.5 C243,676 242.5,681 243,686" fill="none" stroke-width="0.7"/>
<ellipse cx="227.2" cy="673.4" rx="7.1" ry="7.7" stroke-width="1.1"/>
<path d="M221,669.5 C222,666.5 226,665 230,666" fill="none" stroke-width="0.6"/>
</g>
<g filter="url(#gs)">
<rect x="483.70" y="256.60" width="31.40" height="48.20" fill="#000" stroke="none" stroke-width="1" />
<text transform="translate(499.4,290.3) scale(0.94,1)" x="0" y="0" text-anchor="middle" font-family="Liberation Sans, sans-serif" font-size="26.6" font-weight="bold" fill="#fff">1</text>
<rect x="245.90" y="255.90" width="31.60" height="49.10" fill="#000" stroke="none" stroke-width="1" />
<text transform="translate(261.7,290.1) scale(0.94,1)" x="0" y="0" text-anchor="middle" font-family="Liberation Sans, sans-serif" font-size="26.6" font-weight="bold" fill="#fff">2</text>
<rect x="87.50" y="373.20" width="31.60" height="48.70" fill="#000" stroke="none" stroke-width="1" />
<text transform="translate(103.3,407.1) scale(0.94,1)" x="0" y="0" text-anchor="middle" font-family="Liberation Sans, sans-serif" font-size="26.6" font-weight="bold" fill="#fff">3</text>
<rect x="447.30" y="538.70" width="32.00" height="48.40" fill="#000" stroke="none" stroke-width="1" />
<text transform="translate(463.3,572.5) scale(0.94,1)" x="0" y="0" text-anchor="middle" font-family="Liberation Sans, sans-serif" font-size="26.6" font-weight="bold" fill="#fff">4</text>
<rect x="178.90" y="538.90" width="31.10" height="47.90" fill="#000" stroke="none" stroke-width="1" />
<text transform="translate(194.4,572.4) scale(0.94,1)" x="0" y="0" text-anchor="middle" font-family="Liberation Sans, sans-serif" font-size="26.6" font-weight="bold" fill="#fff">5</text>
<rect x="86.70" y="538.00" width="31.90" height="48.80" fill="#000" stroke="none" stroke-width="1" />
<text transform="translate(102.7,572.0) scale(0.94,1)" x="0" y="0" text-anchor="middle" font-family="Liberation Sans, sans-serif" font-size="26.6" font-weight="bold" fill="#fff">6</text>
<g transform="translate(51.40,75.10) rotate(-90)"><rect x="-29.8" y="-10.3" width="59.5" height="20.6" fill="#fff"/><text x="0" y="6.01" text-anchor="middle" font-family="Liberation Sans, sans-serif" font-size="16.8"  fill="#111"  textLength="57.2" lengthAdjust="spacingAndGlyphs">500x400</text></g>
<g transform="translate(154.10,170.50) rotate(0)"><text x="0" y="6.01" text-anchor="middle" font-family="Liberation Sans, sans-serif" font-size="16.8"  fill="#111"  textLength="73.4" lengthAdjust="spacingAndGlyphs">1700x2300</text></g>
<g transform="translate(48.40,289.20) rotate(-90)"><text x="0" y="6.01" text-anchor="middle" font-family="Liberation Sans, sans-serif" font-size="16.8"  fill="#111"  textLength="63.7" lengthAdjust="spacingAndGlyphs">1000x400</text></g>
<g transform="translate(46.50,387.50) rotate(-90)"><rect x="-32.5" y="-10.3" width="65.0" height="20.6" fill="#fff"/><text x="0" y="6.01" text-anchor="middle" font-family="Liberation Sans, sans-serif" font-size="16.8"  fill="#111"  textLength="63.0" lengthAdjust="spacingAndGlyphs">1000x400</text></g>
<g transform="translate(82.00,457.40) rotate(0)"><rect x="-33.5" y="-10.3" width="67.0" height="20.6" fill="#fff"/><text x="0" y="6.01" text-anchor="middle" font-family="Liberation Sans, sans-serif" font-size="16.8"  fill="#111"  textLength="64.7" lengthAdjust="spacingAndGlyphs">1200x600</text></g>
<g transform="translate(55.10,552.60) rotate(-90)"><rect x="-33.2" y="-10.3" width="66.5" height="20.6" fill="#fff"/><text x="0" y="6.01" text-anchor="middle" font-family="Liberation Sans, sans-serif" font-size="16.8"  fill="#111"  textLength="64.6" lengthAdjust="spacingAndGlyphs">1350x600</text></g>
<g transform="translate(79.00,631.50) rotate(0)"><rect x="-33.5" y="-10.3" width="67.0" height="20.6" fill="#fff"/><text x="0" y="6.01" text-anchor="middle" font-family="Liberation Sans, sans-serif" font-size="16.8"  fill="#111"  textLength="64.6" lengthAdjust="spacingAndGlyphs">1140x450</text></g>
<g transform="translate(164.60,629.50) rotate(-90)"><rect x="-28.8" y="-11.0" width="57.6" height="22.0" fill="#fff"/><text x="0" y="6.01" text-anchor="middle" font-family="Liberation Sans, sans-serif" font-size="16.8"  fill="#111"  textLength="57.0" lengthAdjust="spacingAndGlyphs">500x300</text></g>
<g transform="translate(171.20,370.50) rotate(-90)"><text x="0" y="5.55" text-anchor="middle" font-family="Liberation Sans, sans-serif" font-size="15.5"  fill="#111"  textLength="25.0" lengthAdjust="spacingAndGlyphs">ДШ</text></g>
<g transform="translate(246.00,321.30) rotate(0)"><text x="0" y="4.30" text-anchor="middle" font-family="Liberation Sans, sans-serif" font-size="12" font-weight="bold" fill="#000" stroke="#000" stroke-width="0.35" textLength="72.0" lengthAdjust="spacingAndGlyphs">кондиционер</text></g>
<g transform="translate(312.00,271.60) rotate(-90)"><text x="0" y="6.01" text-anchor="middle" font-family="Liberation Sans, sans-serif" font-size="16.8"  fill="#111"  textLength="64.8" lengthAdjust="spacingAndGlyphs">1400x220</text></g>
<g transform="translate(358.90,273.30) rotate(0)"><text x="0" y="6.01" text-anchor="middle" font-family="Liberation Sans, sans-serif" font-size="16.8"  fill="#111"  textLength="57.7" lengthAdjust="spacingAndGlyphs">900x900</text></g>
<g transform="translate(343.20,86.70) rotate(-90)"><text x="0" y="6.09" text-anchor="middle" font-family="Liberation Sans, sans-serif" font-size="17" font-weight="bold" fill="#000"  textLength="21.4" lengthAdjust="spacingAndGlyphs">50&quot;</text></g>
<g transform="translate(459.20,118.00) rotate(-90)"><text x="0" y="6.01" text-anchor="middle" font-family="Liberation Sans, sans-serif" font-size="16.8"  fill="#111"  textLength="55.5" lengthAdjust="spacingAndGlyphs">700x500</text></g>
<g transform="translate(532.50,162.20) rotate(-90)"><rect x="-37.8" y="-10.3" width="75.5" height="20.6" fill="#fff"/><text x="0" y="6.01" text-anchor="middle" font-family="Liberation Sans, sans-serif" font-size="16.8"  fill="#111"  textLength="73.4" lengthAdjust="spacingAndGlyphs">2000x1000</text></g>
<g transform="translate(576.70,111.80) rotate(-90)"><text x="0" y="4.73" text-anchor="middle" font-family="Liberation Sans, sans-serif" font-size="13.2" font-weight="bold" fill="#000" stroke="#000" stroke-width="0.3" textLength="71.3" lengthAdjust="spacingAndGlyphs">кондиционер</text></g>
<g transform="translate(526.10,408.80) rotate(0)"><text x="0" y="5.58" text-anchor="middle" font-family="Liberation Sans, sans-serif" font-size="15.6"  fill="#111"  textLength="24.3" lengthAdjust="spacingAndGlyphs">625</text></g>
<g transform="translate(570.30,408.80) rotate(0)"><text x="0" y="5.58" text-anchor="middle" font-family="Liberation Sans, sans-serif" font-size="15.6"  fill="#111"  textLength="23.3" lengthAdjust="spacingAndGlyphs">400</text></g>
<g transform="translate(498.20,457.90) rotate(0)"><text x="0" y="5.05" text-anchor="middle" font-family="Liberation Sans, sans-serif" font-size="14.1"  fill="#111"  textLength="21.7" lengthAdjust="spacingAndGlyphs">ПМ</text></g>
<g transform="translate(337.30,513.50) rotate(0)"><rect x="-28.0" y="-10.0" width="56.0" height="20.0" fill="#fff"/><text x="0" y="6.01" text-anchor="middle" font-family="Liberation Sans, sans-serif" font-size="16.8"  fill="#111"  textLength="53.8" lengthAdjust="spacingAndGlyphs">электр.</text></g>
<g transform="translate(409.80,513.70) rotate(0)"><rect x="-35.0" y="-8.4" width="70.0" height="16.8" fill="#fff"/><text x="0" y="5.73" text-anchor="middle" font-family="Liberation Sans, sans-serif" font-size="16"  fill="#111"  textLength="64.5" lengthAdjust="spacingAndGlyphs">1060x450</text></g>
<g transform="translate(358.90,538.30) rotate(0)"><text x="0" y="5.58" text-anchor="middle" font-family="Liberation Sans, sans-serif" font-size="15.6"  fill="#111"  textLength="32.4" lengthAdjust="spacingAndGlyphs">1130</text></g>
<g transform="translate(293.00,573.30) rotate(0)"><text x="0" y="5.37" text-anchor="middle" font-family="Liberation Sans, sans-serif" font-size="15"  fill="#111"  textLength="24.3" lengthAdjust="spacingAndGlyphs">325</text></g>
<g transform="translate(359.30,573.70) rotate(0)"><text x="0" y="5.51" text-anchor="middle" font-family="Liberation Sans, sans-serif" font-size="15.4"  fill="#111"  textLength="23.8" lengthAdjust="spacingAndGlyphs">500</text></g>
<g transform="translate(424.90,573.70) rotate(0)"><text x="0" y="5.51" text-anchor="middle" font-family="Liberation Sans, sans-serif" font-size="15.4"  fill="#111"  textLength="23.6" lengthAdjust="spacingAndGlyphs">320</text></g>
<g transform="translate(337.30,625.40) rotate(0)"><text x="0" y="5.37" text-anchor="middle" font-family="Liberation Sans, sans-serif" font-size="15"  fill="#111"  textLength="24.6" lengthAdjust="spacingAndGlyphs">СМ</text></g>
<g transform="translate(489.50,517.30) rotate(0)"><text x="0" y="5.26" text-anchor="middle" font-family="Liberation Sans, sans-serif" font-size="14.7"  fill="#111"  textLength="43.4" lengthAdjust="spacingAndGlyphs">_трап.</text></g>
<g transform="translate(494.40,563.20) rotate(-90)"><text x="0" y="6.01" text-anchor="middle" font-family="Liberation Sans, sans-serif" font-size="16.8"  fill="#111"  textLength="63.7" lengthAdjust="spacingAndGlyphs">1600x900</text></g>
<g transform="translate(231.70,732.00) rotate(0)"><text x="0" y="5.26" text-anchor="middle" font-family="Liberation Sans, sans-serif" font-size="14.7"  fill="#111"  textLength="42.1" lengthAdjust="spacingAndGlyphs">ВХОД</text></g>
</g>
</svg>
</body></html>
